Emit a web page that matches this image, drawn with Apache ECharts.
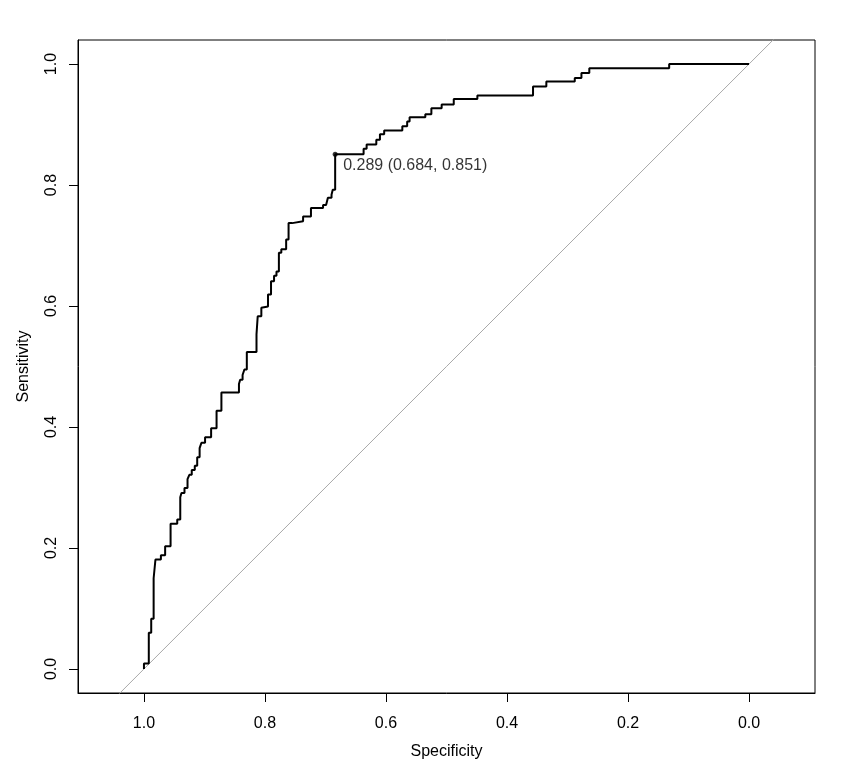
<!DOCTYPE html>
<html>
<head>
<meta charset="utf-8">
<script src="https://cdn.jsdelivr.net/npm/echarts@6/dist/echarts.min.js"></script>
<style>
html,body{margin:0;padding:0;background:#fff;}
#chart{width:856px;height:772px;}
</style>
</head>
<body>
<div id="chart"></div>
<script>
// ROC curve vertices
var specificity = [1.000,1.000,0.992,0.992,0.988,0.988,0.984,0.984,0.981,0.981,0.972,0.972,0.965,0.965,0.956,0.956,0.945,0.945,0.940,0.940,0.938,0.938,0.933,0.933,0.928,0.928,0.925,0.925,0.921,0.921,0.916,0.916,0.912,0.912,0.908,0.908,0.905,0.905,0.899,0.899,0.889,0.889,0.880,0.880,0.872,0.872,0.843,0.843,0.841,0.841,0.837,0.837,0.834,0.834,0.830,0.830,0.814,0.814,0.812,0.812,0.806,0.806,0.803,0.795,0.795,0.790,0.790,0.785,0.785,0.781,0.781,0.777,0.777,0.773,0.773,0.765,0.765,0.761,0.761,0.755,0.755,0.737,0.737,0.724,0.724,0.704,0.704,0.699,0.699,0.696,0.696,0.690,0.690,0.688,0.688,0.684,0.684,0.637,0.637,0.632,0.632,0.616,0.616,0.610,0.610,0.603,0.603,0.573,0.573,0.565,0.565,0.561,0.561,0.535,0.535,0.525,0.525,0.508,0.508,0.488,0.488,0.449,0.449,0.357,0.357,0.335,0.335,0.288,0.288,0.277,0.277,0.264,0.264,0.132,0.132,0.000];
var sensitivity = [0.000,0.009,0.009,0.060,0.060,0.083,0.083,0.150,0.150,0.181,0.181,0.188,0.188,0.203,0.203,0.240,0.240,0.247,0.247,0.284,0.284,0.291,0.291,0.299,0.299,0.314,0.314,0.321,0.321,0.329,0.329,0.336,0.336,0.350,0.350,0.365,0.365,0.374,0.374,0.383,0.383,0.398,0.398,0.427,0.427,0.457,0.457,0.471,0.471,0.478,0.478,0.486,0.486,0.495,0.495,0.524,0.524,0.553,0.553,0.583,0.583,0.597,0.599,0.599,0.619,0.619,0.641,0.641,0.650,0.650,0.657,0.657,0.688,0.688,0.694,0.694,0.710,0.710,0.737,0.737,0.740,0.740,0.748,0.748,0.762,0.762,0.767,0.767,0.770,0.770,0.779,0.779,0.784,0.784,0.792,0.792,0.851,0.851,0.860,0.860,0.867,0.867,0.875,0.875,0.884,0.884,0.890,0.890,0.897,0.897,0.905,0.905,0.912,0.912,0.917,0.917,0.927,0.927,0.933,0.933,0.942,0.942,0.948,0.948,0.963,0.963,0.971,0.971,0.977,0.977,0.985,0.985,0.993,0.993,1.000,1.000];
var bestThreshold = 0.289;
var bestPoint = [0.684, 0.851];
var diagonal = [[1.3, -0.3], [-0.3, 1.3]];
var tickValues = [0, 0.2, 0.4, 0.6, 0.8, 1.0];

var curve = specificity.map(function (s, i) { return [s, sensitivity[i]]; });
var FONT = '"Liberation Sans", Arial, sans-serif';

var chart = echarts.init(document.getElementById('chart'), null, {renderer: 'canvas'});
chart.setOption({
  animation: false,
  backgroundColor: '#ffffff',
  grid: {
    left: 78, top: 40, width: 737, height: 653,
    show: true, borderColor: '#000', borderWidth: 1, backgroundColor: 'transparent',
    containLabel: false
  },
  xAxis: {
    type: 'value', inverse: true, min: -0.109, max: 1.109,
    name: 'Specificity', nameLocation: 'middle', nameGap: 51,
    nameTextStyle: {fontFamily: FONT, fontSize: 16, color: '#000'},
    axisLine: {show: true, onZero: false, lineStyle: {color: '#000', width: 1}},
    axisTick: {show: true, length: 9, customValues: tickValues, lineStyle: {color: '#000'}},
    axisLabel: {show: true, customValues: tickValues, margin: 23, fontFamily: FONT, fontSize: 16, color: '#000',
      formatter: function (v) { return v.toFixed(1); }},
    splitLine: {show: false}
  },
  yAxis: {
    type: 'value', min: -0.0397, max: 1.0397,
    name: 'Sensitivity', nameLocation: 'middle', nameGap: 46,
    nameTextStyle: {fontFamily: FONT, fontSize: 16, color: '#000'},
    axisLine: {show: true, onZero: false, lineStyle: {color: '#000', width: 1}},
    axisTick: {show: true, length: 9, customValues: tickValues, lineStyle: {color: '#000'}},
    axisLabel: {show: true, customValues: tickValues, margin: 18, rotate: 90, fontFamily: FONT, fontSize: 16, color: '#000',
      formatter: function (v) { return v.toFixed(1); }},
    splitLine: {show: false}
  },
  series: [
    {
      type: 'line', data: diagonal, symbol: 'none', silent: true, clip: true, z: 1,
      lineStyle: {color: '#a9a9a9', width: 1}
    },
    {
      type: 'line', data: curve, symbol: 'none', silent: true, clip: true, z: 2,
      lineStyle: {color: '#000', width: 2}
    },
    {
      type: 'scatter', data: [bestPoint], symbol: 'circle', symbolSize: 5, z: 3,
      itemStyle: {color: '#000'},
      label: {
        show: true, position: 'inside', align: 'left', verticalAlign: 'middle', offset: [8, 11],
        fontFamily: FONT, fontSize: 16, color: '#000', textBorderWidth: 0,
        formatter: function () {
          return bestThreshold.toFixed(3) + ' (' + bestPoint[0].toFixed(3) + ', ' + bestPoint[1].toFixed(3) + ')';
        }
      }
    }
  ]
});
</script>
</body>
</html>
